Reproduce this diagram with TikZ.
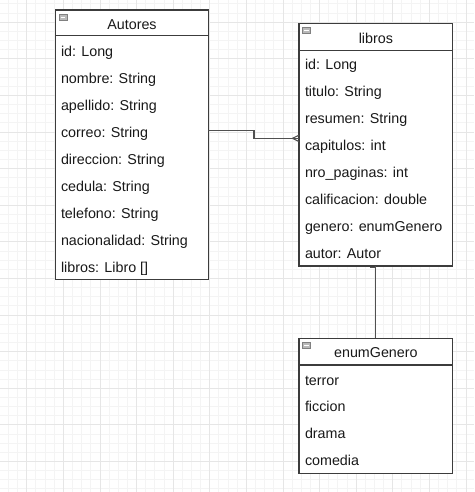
\documentclass[tikz,border=0pt]{standalone}
\usepackage{fontspec}
\setmainfont{Liberation Sans}
\definecolor{gridline}{RGB}{244,244,244}
\definecolor{gridbold}{RGB}{230,230,230}
\definecolor{boxline}{RGB}{60,60,60}
\definecolor{linkline}{RGB}{80,80,80}
\definecolor{textcol}{RGB}{25,25,25}
\usetikzlibrary{positioning}
\tikzset{
    every node/.style={font=\fontsize{14.3}{17}\selectfont, text=textcol},
    classbox/.style={draw=boxline, line width=1.2pt, fill=white,
        anchor=north west, inner sep=0pt, outer sep=0pt},
    field/.style={anchor=base west, inner sep=0pt},
    title/.style={anchor=base, inner sep=0pt},
    link/.style={draw=linkline, line width=1.1pt},
    foldicon/.pic={
        \draw[gray, fill=gray!55] (0,0) rectangle (7.5,6);
        \draw[white, line width=0.8pt] (1.5,3) -- (6,3);
    },
}

\begin{document}
\begin{tikzpicture}[x=1pt, y=-1pt]
    \useasboundingbox[fill=white] (0,0) rectangle (474,492);
    % background grid
    \foreach \k in {-3,...,50}
        \draw[gridline, line width=0.8pt] ({26.7+9.15*\k},0) -- ++(0,492);
    \foreach \k in {-35,...,20}
        \draw[gridline, line width=0.8pt] (0,{315+9.15*\k}) -- ++(474,0);
    \foreach \k in {-1,...,12}
        \draw[gridbold, line width=0.8pt] ({26.7+36.6*\k},0) -- ++(0,492);
    \foreach \k in {-9,...,5}
        \draw[gridbold, line width=0.8pt] (0,{315+36.6*\k}) -- ++(474,0);

    % Autores
    \node[classbox, minimum width=152.6pt, minimum height=25.7pt] (autores-head) at (55.7,10) {};
    \node[classbox, minimum width=152.6pt, minimum height=243.6pt,
        below=0pt of autores-head.south west, anchor=north west] (autores) {};
    \node[title] (autores-title) at ([yshift=-6.3pt]autores-head.center) {Autores};
    \pic at (59.2,14) {foldicon};
    \foreach \txt [count=\i] in {id: Long, nombre: String, apellido: String,
        correo: String, direccion: String, cedula: String, telefono: String,
        nacionalidad: String, {libros: Libro []}}
        \node[field] (autores-\i) at (60.8,{56.7+27*(\i-1)}) {\txt};

    % libros
    \node[classbox, minimum width=153.7pt, minimum height=27.4pt] (libros-head) at (299,23.3) {};
    \node[classbox, minimum width=153.7pt, minimum height=215.3pt,
        below=0pt of libros-head.south west, anchor=north west] (libros) {};
    \node[title] (libros-title) at ([yshift=-6.3pt]libros-head.center) {libros};
    \pic at (302.6,27.3) {foldicon};
    \foreach \txt [count=\i] in {id: Long, titulo: String, resumen: String,
        capitulos: int, nro\_paginas: int, calificacion: double,
        genero: enumGenero, autor: Autor}
        \node[field] (libros-\i) at (304.8,{70+26.9*(\i-1)}) {\txt};

    % enumGenero
    \node[classbox, minimum width=153.7pt, minimum height=26.7pt] (genero-head) at (299,338.3) {};
    \node[classbox, minimum width=153.7pt, minimum height=108.3pt,
        below=0pt of genero-head.south west, anchor=north west] (genero) {};
    \node[title] (genero-title) at ([yshift=-6.3pt]genero-head.center) {enumGenero};
    \pic at (302.6,342.3) {foldicon};
    \foreach \txt [count=\i] in {terror, ficcion, drama, comedia}
        \node[field] (genero-\i) at (304.8,{385+26.9*(\i-1)}) {\txt};

    % relations
    \draw[link] ([yshift=26.8pt]autores.east) -- ++(45.7,0) |- ([yshift=20pt]libros.west);
    \foreach \s in {16.8,23.2}
        \draw[link] ([xshift=-6.5pt,yshift=20pt]libros.west) -- ([yshift=\s pt]libros.west);
    \draw[link] (libros.south) -- (genero-head.north);
    \draw[link] ([xshift=-5.5pt,yshift=-1.5pt]libros.south) -- ([yshift=-1.5pt]libros.south);
\end{tikzpicture}
\end{document}
